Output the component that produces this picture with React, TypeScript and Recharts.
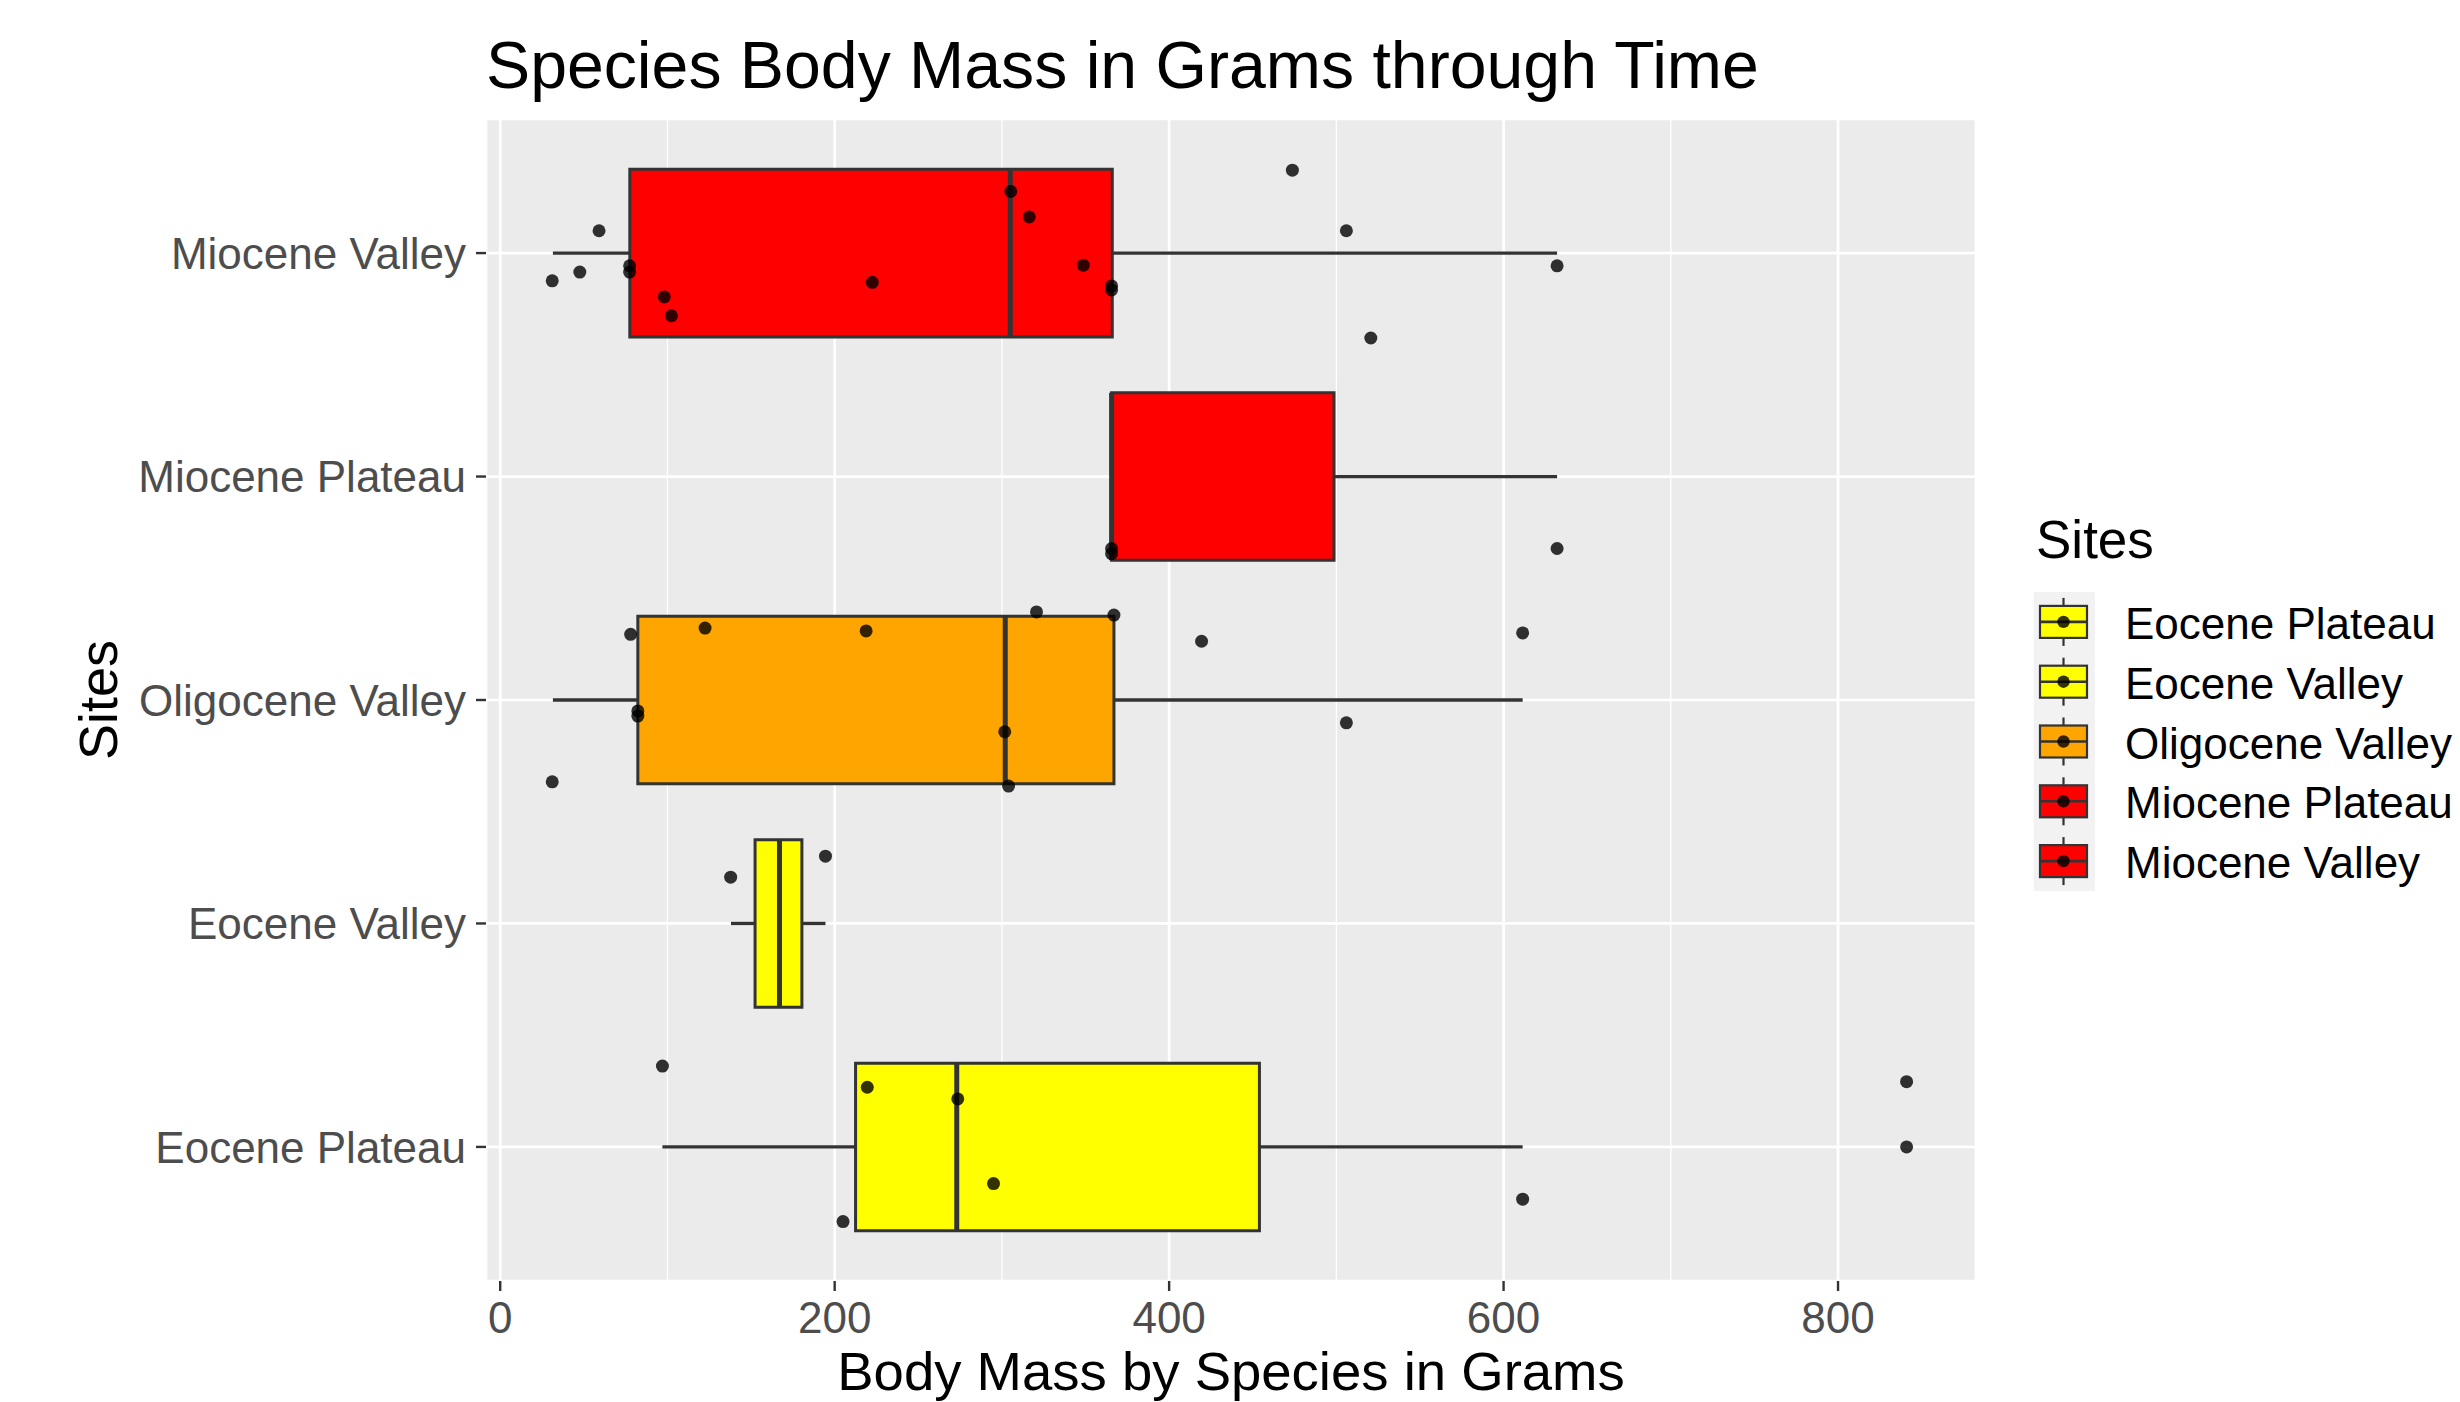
import React from 'react'
import {
  ScatterChart,
  Scatter,
  XAxis,
  YAxis,
  CartesianGrid,
  ReferenceArea,
  ReferenceLine,
} from 'recharts'

// sites, bottom to top on the y axis
const sites = ['Eocene Plateau', 'Eocene Valley', 'Oligocene Valley', 'Miocene Plateau', 'Miocene Valley']
const siteColors = ['#FFFF00', '#FFFF00', '#FFA500', '#FF0000', '#FF0000']

// boxplot stats (grams)
const whiskerLow = [97, 138, 31.5, 365.6, 31.5]
const q1 = [212.5, 152.4, 82.3, 365.6, 77.5]
const median = [273, 167, 302, 365.6, 305]
const q3 = [454, 180.4, 367, 498.6, 366]
const whiskerHigh = [611.4, 194.5, 611.4, 632, 632]

// outliers drawn by the boxplot itself
const outlierSite = [0]
const outlierMass = [841]

// jittered species points, mass and vertical jitter (category units)
const eocenePlateauMass = [97, 219.5, 273.6, 841, 295, 611.4, 205]
const eocenePlateauJitter = [0.362, 0.267, 0.215, 0.292, -0.164, -0.234, -0.334]
const eoceneValleyMass = [194.5, 137.8]
const eoceneValleyJitter = [0.301, 0.207]
const oligoceneValleyMass = [320.7, 367, 78, 122.5, 218.8, 419.4, 611.4, 82.3, 82.3, 506, 301.7, 31.1, 304]
const oligoceneValleyJitter = [0.394, 0.38, 0.294, 0.322, 0.309, 0.263, 0.3, -0.049, -0.072, -0.102, -0.142, -0.366, -0.385]
const miocenePlateauMass = [365.6, 365.6, 632]
const miocenePlateauJitter = [-0.322, -0.345, -0.322]
const mioceneValleyMass = [473.7, 305.3, 316.4, 59.1, 506, 77.4, 77.4, 47.6, 31.1, 348.7, 365.6, 365.6, 222.5, 632, 98.1, 102.4, 520.6]
const mioceneValleyJitter = [0.371, 0.276, 0.162, 0.1, 0.1, -0.057, -0.085, -0.085, -0.124, -0.054, -0.147, -0.165, -0.131, -0.057, -0.196, -0.281, -0.38]

const massTicks = [0, 200, 400, 600, 800]
const minorTicks = [100, 300, 500, 700]
const siteTicks = [1, 2, 3, 4, 5]

const siteMass = [eocenePlateauMass, eoceneValleyMass, oligoceneValleyMass, miocenePlateauMass, mioceneValleyMass]
const siteJitter = [eocenePlateauJitter, eoceneValleyJitter, oligoceneValleyJitter, miocenePlateauJitter, mioceneValleyJitter]

const points = siteMass.flatMap((masses, i) =>
  masses.map((m, j) => ({ x: m, y: i + 1 + siteJitter[i][j] }))
)
const outliers = outlierSite.map((s, i) => ({ x: outlierMass[i], y: s + 1 }))

const FONT = '"Liberation Sans", Arial, sans-serif'
const INK = '#333333'
const HALF = 0.375

const Dot = (props: any) => (
  <circle cx={props.cx} cy={props.cy} r={6.5} fill="#000" fillOpacity={0.8} />
)

function Legend() {
  const top = 592
  const step = 59.8
  return (
    <g>
      <text x={2036} y={558} fontSize={53} fill="#000">Sites</text>
      <rect x={2034} y={top} width={61} height={step * 5} fill="#F2F2F2" />
      {sites.map((s, i) => {
        const cy = top + step / 2 + i * step
        return (
          <g key={s}>
            <line x1={2063.5} x2={2063.5} y1={cy - 24} y2={cy + 24} stroke={INK} strokeWidth={2.2} />
            <rect x={2040} y={cy - 16} width={47} height={32} fill={siteColors[i]} stroke={INK} strokeWidth={2.2} />
            <line x1={2040} x2={2087} y1={cy} y2={cy} stroke={INK} strokeWidth={2.6} />
            <circle cx={2063.5} cy={cy} r={6.2} fill="#000" fillOpacity={0.8} />
            <text x={2125} y={cy + 17} fontSize={44} fill="#000">{s}</text>
          </g>
        )
      })}
    </g>
  )
}

export default function App() {
  return (
    <div style={{ position: 'absolute', left: 0, top: 0, width: 2460, height: 1402, background: '#fff', fontFamily: FONT }}>
      <ScatterChart
        width={2460}
        height={1402}
        margin={{ top: 119, right: 484, bottom: 0, left: 0 }}
      >
        <CartesianGrid fill="#EBEBEB" stroke="#FFFFFF" strokeWidth={2.7} />
        <CartesianGrid
          horizontal={false}
          verticalValues={minorTicks}
          fill="none"
          stroke="#FFFFFF"
          strokeWidth={1.3}
        />
        <XAxis
          type="number"
          dataKey="x"
          domain={[-8.5, 882.5]}
          ticks={massTicks}
          allowDataOverflow
          height={121}
          axisLine={false}
          tickSize={10}
          tickMargin={11}
          tickLine={{ stroke: INK, strokeWidth: 2.4 }}
          tick={{ fill: '#4D4D4D', fontSize: 44 }}
        />
        <YAxis
          type="number"
          dataKey="y"
          domain={[0.4, 5.6]}
          ticks={siteTicks}
          allowDataOverflow
          width={486}
          axisLine={false}
          tickSize={10}
          tickMargin={10}
          tickLine={{ stroke: INK, strokeWidth: 2.4 }}
          tick={{ fill: '#4D4D4D', fontSize: 44 }}
          tickFormatter={(v: number) => sites[v - 1]}
        />
        {sites.map((s, i) => (
          <ReferenceLine
            key={s + '-lo'}
            segment={[{ x: whiskerLow[i], y: i + 1 }, { x: q1[i], y: i + 1 }]}
            stroke={INK}
            strokeWidth={3.3}
          />
        ))}
        {sites.map((s, i) => (
          <ReferenceLine
            key={s + '-hi'}
            segment={[{ x: q3[i], y: i + 1 }, { x: whiskerHigh[i], y: i + 1 }]}
            stroke={INK}
            strokeWidth={3.3}
          />
        ))}
        {sites.map((s, i) => (
          <ReferenceArea
            key={s + '-box'}
            x1={q1[i]}
            x2={q3[i]}
            y1={i + 1 - HALF}
            y2={i + 1 + HALF}
            fill={siteColors[i]}
            fillOpacity={1}
            stroke={INK}
            strokeWidth={3}
          />
        ))}
        {sites.map((s, i) => (
          <ReferenceLine
            key={s + '-med'}
            segment={[{ x: median[i], y: i + 1 - HALF }, { x: median[i], y: i + 1 + HALF }]}
            stroke={INK}
            strokeWidth={5}
          />
        ))}
        <Scatter data={outliers} shape={Dot} isAnimationActive={false} />
        <Scatter data={points} shape={Dot} isAnimationActive={false} />
      </ScatterChart>
      <svg
        width={2460}
        height={1402}
        style={{ position: 'absolute', left: 0, top: 0, pointerEvents: 'none' }}
        fontFamily={FONT}
      >
        <text x={486} y={88} fontSize={66.2} fill="#000">Species Body Mass in Grams through Time</text>
        <text x={1231} y={1390} fontSize={54.5} fill="#000" textAnchor="middle">Body Mass by Species in Grams</text>
        <text transform="translate(117,700) rotate(-90)" fontSize={54} fill="#000" textAnchor="middle">Sites</text>
        <Legend />
      </svg>
    </div>
  )
}
